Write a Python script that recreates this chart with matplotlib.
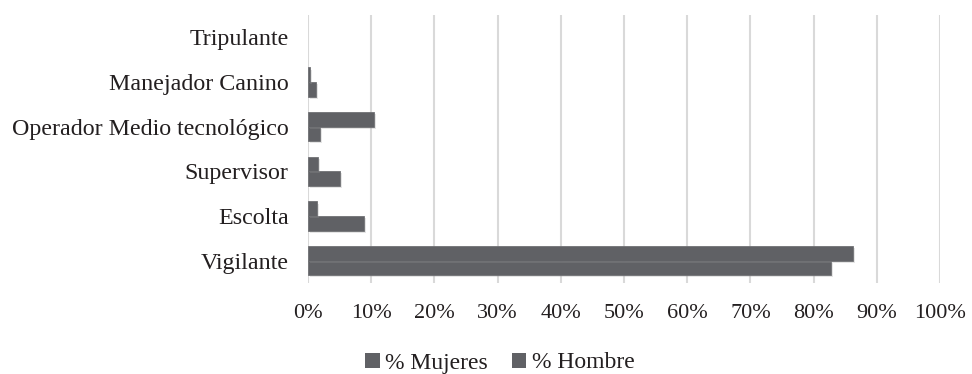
import numpy as np
import matplotlib
matplotlib.use("Agg")
import matplotlib.pyplot as plt
import matplotlib.patheffects as pe
from matplotlib.patches import Patch
from matplotlib.ticker import FuncFormatter

# cargos, de abajo hacia arriba
cargos = ["Vigilante", "Escolta", "Supervisor", "Operador Medio tecnológico",
          "Manejador Canino", "Tripulante"]
pct_mujeres = [82.8, 8.8, 5.1, 1.9, 1.3, 0.0]
pct_hombre = [86.2, 1.4, 1.6, 10.5, 0.3, 0.0]
series = ["% Mujeres", "% Hombre"]

bar_color = "#606165"
text_color = "#231f20"
plt.rcParams["font.family"] = ["Liberation Serif", "DejaVu Serif"]

fig = plt.figure(figsize=(9.72, 3.74), dpi=100)
ax = fig.add_axes([308 / 972, 1 - 283 / 374, 632 / 972, 268 / 374])

y = np.arange(len(cargos))
h = 0.325
shadow = [pe.SimplePatchShadow(offset=(1.5, -1.5), shadow_rgbFace="#999999", alpha=0.25),
          pe.Normal()]
b1 = ax.barh(y - h / 2, pct_mujeres, height=h, color=bar_color,
             edgecolor="#707175", linewidth=0.6, zorder=3)
b2 = ax.barh(y + h / 2, pct_hombre, height=h, color=bar_color,
             edgecolor="#707175", linewidth=0.6, zorder=3)
for bars, vals in ((b1, pct_mujeres), (b2, pct_hombre)):
    for p, v in zip(bars, vals):
        if v == 0:
            p.set_visible(False)
        else:
            p.set_path_effects(shadow)

ax.set_xlim(0, 100)
ax.set_ylim(-0.5, len(cargos) - 0.5)
ax.set_xticks(np.arange(0, 101, 10))
ax.xaxis.set_major_formatter(FuncFormatter(lambda v, _: f"{v:.0f}%"))
ax.set_yticks(y)
ax.set_yticklabels(cargos)
ax.tick_params(axis="both", length=0, labelsize=16, colors=text_color)
ax.tick_params(axis="y", pad=14, labelsize=17.3)
ax.tick_params(axis="x", pad=15)
ax.grid(axis="x", color="#d9d9d9", linewidth=1.5, zorder=0)
for s in ax.spines.values():
    s.set_visible(False)

handles = [Patch(facecolor=bar_color, label=s) for s in series]
fig.legend(handles=handles, loc="center", bbox_to_anchor=(500 / 972, 1 - 363 / 374),
           ncol=2, frameon=False, fontsize=17, handlelength=0.62, handleheight=0.62,
           handletextpad=0.25, columnspacing=1.0, labelcolor=text_color)

fig.savefig("out.png", dpi=100, facecolor="white")
